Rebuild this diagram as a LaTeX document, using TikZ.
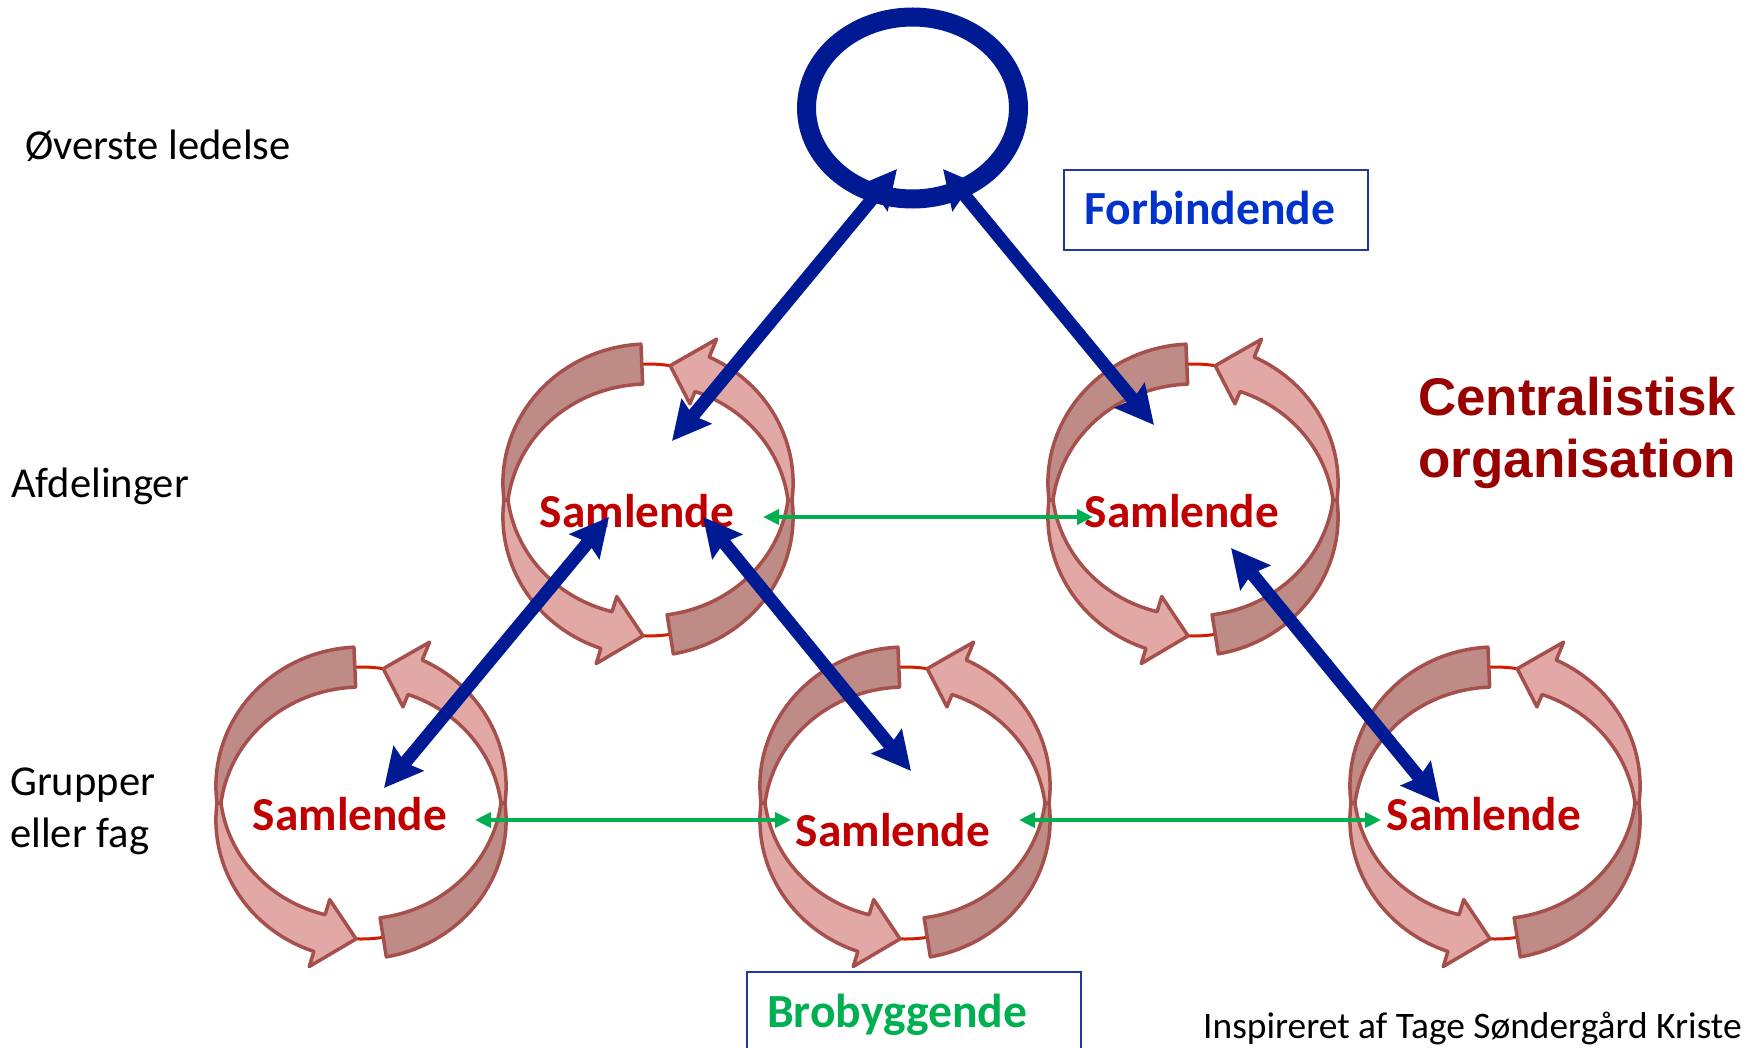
\documentclass[tikz,border=0pt]{standalone}
\usepackage{fontspec}
\setmainfont{Carlito}
\newfontfamily\arialfont{Liberation Sans}
\usetikzlibrary{arrows.meta,shapes.geometric}
\definecolor{navyb}{RGB}{0,26,148}
\definecolor{samred}{RGB}{192,0,0}
\definecolor{forbblue}{RGB}{0,51,204}
\definecolor{boxblue}{RGB}{32,56,160}
\definecolor{grn}{RGB}{0,176,80}
\definecolor{darkred}{RGB}{153,0,0}
\definecolor{rdark}{RGB}{190,139,135}
\definecolor{rlight}{RGB}{226,168,166}
\definecolor{rline}{RGB}{165,80,75}
\definecolor{ringred}{RGB}{210,30,0}
\newcommand{\cyclepair}[3]{%
  \coordinate (#3) at (#1,#2);
  \begin{scope}[shift={(#1,#2)}]
    \draw[ringline] (0,0) ellipse [x radius=142pt, y radius=136pt];
    % left arrow: back (dark) part
    \filldraw[ribbon, fill=rdark]
      plot[domain=92.5:180] ({(142+hh(\x))*cos(\x)},{-(136+hh(\x))*sin(\x)})
      -- plot[domain=180:92.5] ({(142-hh(\x))*cos(\x)},{-(136-hh(\x))*sin(\x)}) -- cycle;
    % left arrow: front (light) part with head
    \filldraw[ribbon, fill=rlight]
      plot[domain=180:253] ({(142+hh(\x))*cos(\x)},{-(136+hh(\x))*sin(\x)})
      -- ({177*cos(253)},{-171*sin(253)})
      -- ({142*cos(268)},{-136*sin(268)})
      -- ({107*cos(253)},{-101*sin(253)})
      -- plot[domain=253:180] ({(142-hh(\x))*cos(\x)},{-(136-hh(\x))*sin(\x)}) -- cycle;
    % right arrow: back (dark) part
    \filldraw[ribbon, fill=rdark]
      plot[domain=279:360] ({(142+hh(\x))*cos(\x)},{-(136+hh(\x))*sin(\x)})
      -- plot[domain=360:279] ({(142-hh(\x))*cos(\x)},{-(136-hh(\x))*sin(\x)}) -- cycle;
    % right arrow: front (light) part with head
    \filldraw[ribbon, fill=rlight]
      plot[domain=0:67.6] ({(142+hh(\x))*cos(\x)},{-(136+hh(\x))*sin(\x)})
      -- ({180*cos(67.6)},{-174*sin(67.6)})
      -- ({142*cos(81)},{-136*sin(81)})
      -- ({110*cos(67.6)},{-104*sin(67.6)})
      -- plot[domain=67.6:0] ({(142-hh(\x))*cos(\x)},{-(136-hh(\x))*sin(\x)}) -- cycle;
  \end{scope}}
\begin{document}
\begin{tikzpicture}[x=1pt,y=-1pt,
  declare function={hh(\t)=18*abs(sin(\t))+2;},
  ringline/.style={draw=ringred, line width=3pt},
  ribbon/.style={draw=rline, line width=3.5pt, line join=round, samples=40},
  bluearrow/.style={draw=navyb, line width=13pt, >={Stealth[length=38pt,width=38pt,inset=5pt]}, <->},
  greenarrow/.style={draw=grn, line width=4pt, >={Triangle[length=16pt,width=15pt]}, <->},
  samtext/.style={text=samred, font=\fontsize{47.3}{56}\selectfont\bfseries, inner sep=0pt, anchor=base},
  lefttext/.style={text=black, font=\fontsize{42.6}{52}\selectfont, inner sep=0pt, anchor=base west},
  boxstyle/.style={draw=boxblue, line width=2pt, inner sep=0pt, anchor=north west},
  boxtext/.style={inner sep=0pt, anchor=base west, font=\fontsize{47.6}{56}\selectfont\bfseries},
  titletext/.style={inner sep=0pt, anchor=base west, text=darkred, font=\arialfont\fontsize{53}{62}\selectfont\bfseries}
]
\useasboundingbox (0,0) rectangle (1752,1048);
\clip (0,0) rectangle (1752,1048);
\fill[white] (0,0) rectangle (1752,1048);

% top management ring
\node[draw=navyb, line width=19pt, ellipse, inner sep=0pt, minimum width=212pt, minimum height=182pt] (top) at (912.5,108) {};

% cycles
\cyclepair{648}{500}{c1}
\cyclepair{1193}{500}{c2}
\cyclepair{361}{803}{c3}
\cyclepair{905}{803}{c4}
\cyclepair{1495}{803}{c5}

% labels
\node[samtext] (s1) at (637,527) {Samlende};
\node[samtext] (s2) at (1182,527) {Samlende};
\node[samtext] (s3) at (350,830) {Samlende};
\node[samtext] (s4) at (893,846) {Samlende};
\node[samtext] (s5) at (1484,830) {Samlende};

\node[lefttext] (l1) at (25,160) {Øverste ledelse};
\node[lefttext] (l2) at (11,497) {Afdelinger};
\node[lefttext] (l3) at (10,795) {Grupper};
\node[lefttext] (l4) at (10,847) {eller fag};

\node[titletext] (c1t) at (1418,415) {Centralistisk};
\node[titletext] (c2t) at (1418,477) {organisation};

\node[boxstyle, minimum width=304pt, minimum height=80pt] (forb) at (1063,169) {};
\node[boxtext, text=forbblue] (forbt) at (1084,225) {Forbindende};

\node[boxstyle, minimum width=334pt, minimum height=130pt] (brob) at (746,971) {};
\node[boxtext, text=grn] (brobt) at (767,1027) {Brobyggende};

\node[inner sep=0pt, anchor=base west, text=black, font=\fontsize{37.4}{44}\selectfont] (credit) at (1203,1038) {Inspireret af Tage Søndergård Kriste};

% green bridging arrows
\coordinate (g1a) at (763,517);  \coordinate (g1b) at (1093,517);
\coordinate (g2a) at (475,820);  \coordinate (g2b) at (791,820);
\coordinate (g3a) at (1019,820); \coordinate (g3b) at (1381,820);
\draw[greenarrow] (g1a) -- (g1b);
\draw[greenarrow] (g2a) -- (g2b);
\draw[greenarrow] (g3a) -- (g3b);

% blue connecting arrows
\coordinate (a1) at (897,169);  \coordinate (a2) at (672,441);
\coordinate (b1) at (943,169);  \coordinate (b2) at (1154,425);
\coordinate (d1) at (609,517);  \coordinate (d2) at (384,788);
\coordinate (e1) at (703,517);  \coordinate (e2) at (911,771);
\coordinate (f1) at (1231,548); \coordinate (f2) at (1440,803);
\draw[bluearrow] (a1) -- (a2);
\draw[bluearrow] (b1) -- (b2);
\draw[bluearrow] (d1) -- (d2);
\draw[bluearrow] (e1) -- (e2);
\draw[bluearrow] (f1) -- (f2);
\end{tikzpicture}
\end{document}
